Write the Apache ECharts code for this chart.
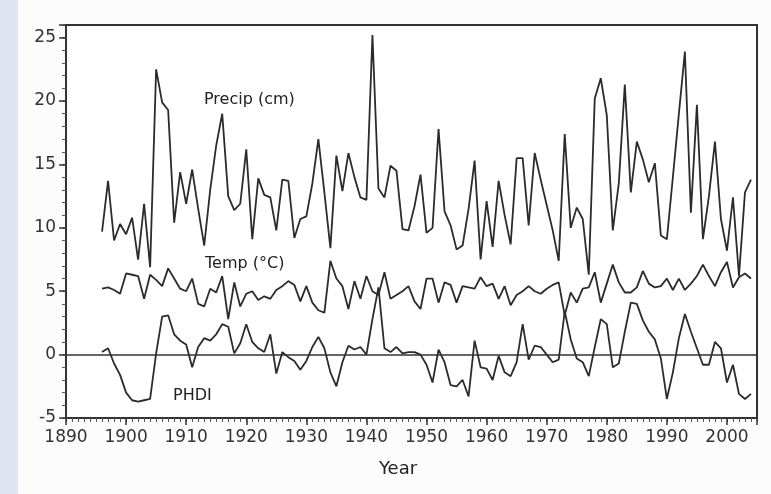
<!DOCTYPE html>
<html><head><meta charset="utf-8">
<script src="https://cdn.jsdelivr.net/npm/echarts@6/dist/echarts.min.js"></script>
<style>html,body{margin:0;padding:0;background:#fcfcfc}#c{width:771px;height:494px}</style>
</head><body><div id="c"></div>
<script>
const years = [1896,1897,1898,1899,1900,1901,1902,1903,1904,1905,1906,1907,1908,1909,1910,1911,1912,1913,1914,1915,
1916,1917,1918,1919,1920,1921,1922,1923,1924,1925,1926,1927,1928,1929,1930,1931,1932,1933,1934,1935,
1936,1937,1938,1939,1940,1941,1942,1943,1944,1945,1946,1947,1948,1949,1950,1951,1952,1953,1954,1955,
1956,1957,1958,1959,1960,1961,1962,1963,1964,1965,1966,1967,1968,1969,1970,1971,1972,1973,1974,1975,
1976,1977,1978,1979,1980,1981,1982,1983,1984,1985,1986,1987,1988,1989,1990,1991,1992,1993,1994,1995,
1996,1997,1998,1999,2000,2001,2002,2003,2004];

const precip = [9.7,13.7,9.0,10.3,9.5,10.8,7.5,11.9,6.9,22.5,19.9,19.3,10.4,14.4,11.9,14.6,11.5,8.6,13.0,16.5,
19.0,12.5,11.4,11.9,16.2,9.1,13.9,12.6,12.4,9.8,13.8,13.7,9.2,10.7,10.9,13.5,17.0,12.8,8.4,15.7,
12.9,15.9,14.0,12.4,12.2,25.2,13.1,12.4,14.9,14.5,9.9,9.8,11.7,14.2,9.6,10.0,17.8,11.3,10.2,8.3,
8.6,11.5,15.3,7.5,12.1,8.5,13.7,11.0,8.7,15.5,15.5,10.2,15.9,13.8,11.8,9.8,7.4,17.4,10.0,11.6,
10.7,6.3,20.2,21.8,18.9,9.8,13.5,21.3,12.8,16.8,15.4,13.6,15.1,9.4,9.1,14.0,19.0,23.9,11.2,19.7,
9.1,12.5,16.8,10.7,8.2,12.4,6.2,12.8,13.8];

const temp = [5.2,5.3,5.1,4.8,6.4,6.3,6.2,4.4,6.3,5.9,5.4,6.8,6.0,5.2,5.0,6.0,4.0,3.8,5.2,4.9,
6.2,2.8,5.7,3.8,4.8,5.0,4.3,4.6,4.4,5.1,5.4,5.8,5.5,4.2,5.4,4.1,3.5,3.3,7.4,6.0,
5.4,3.6,5.8,4.4,6.2,5.0,4.7,6.5,4.4,4.7,5.0,5.4,4.2,3.6,6.0,6.0,4.1,5.7,5.5,4.1,
5.4,5.3,5.2,6.1,5.4,5.6,4.4,5.4,3.9,4.7,5.0,5.4,5.0,4.8,5.2,5.5,5.7,3.1,4.9,4.1,
5.2,5.3,6.5,4.1,5.6,7.1,5.7,4.9,4.9,5.3,6.6,5.6,5.3,5.4,6.0,5.1,6.0,5.1,5.6,6.2,
7.1,6.2,5.4,6.5,7.3,5.3,6.1,6.4,6.0];

const phdi = [0.2,0.5,-0.7,-1.6,-3.0,-3.6,-3.7,-3.6,-3.5,0.1,3.0,3.1,1.6,1.1,0.8,-1.0,0.6,1.3,1.1,1.6,
2.4,2.2,0.1,0.9,2.4,1.0,0.5,0.2,1.6,-1.5,0.2,-0.2,-0.5,-1.2,-0.5,0.6,1.4,0.5,-1.4,-2.5,
-0.6,0.7,0.4,0.6,0.0,2.8,5.3,0.5,0.2,0.6,0.1,0.2,0.2,0.0,-0.8,-2.2,0.4,-0.6,-2.4,-2.5,
-2.0,-3.3,1.1,-1.0,-1.1,-2.0,-0.1,-1.4,-1.7,-0.6,2.4,-0.4,0.7,0.6,0.0,-0.6,-0.4,3.4,1.2,-0.3,
-0.6,-1.7,0.6,2.8,2.4,-1.0,-0.7,1.8,4.1,4.0,2.7,1.8,1.2,-0.3,-3.5,-1.4,1.3,3.2,1.8,0.5,
-0.8,-0.8,1.0,0.5,-2.2,-0.8,-3.1,-3.5,-3.1];

const xTickLabels = [1890,1900,1910,1920,1930,1940,1950,1960,1970,1980,1990,2000];
const yTickLabels = [-5,0,5,10,15,20,25];
const seriesNames = ['Precip (cm)', 'Temp (°C)', 'PHDI'];
const xTitle = 'Year';

const chart = echarts.init(document.getElementById('c'), null, {renderer: 'canvas'});
const pairs = arr => years.map((y, i) => [y, arr[i]]);
const font = 'DejaVu Sans';
const lineStyle = {color: '#2b2b2b', width: 1.8};
const mkSeries = (name, arr) => ({
  name, type: 'line', data: pairs(arr), xAxisIndex: 0, yAxisIndex: 0,
  symbol: 'none', lineStyle, itemStyle: {color: '#2b2b2b'}, silent: true
});

const s3 = mkSeries(seriesNames[2], phdi);
s3.markLine = {silent: true, symbol: 'none', label: {show: false},
  lineStyle: {color: '#333', width: 1.6, type: 'solid'}, data: [{yAxis: 0}]};

const option = {
  backgroundColor: '#fcfcfc',
  animation: false,
  grid: {left: 66, right: 14, top: 25, bottom: 76, show: true,
         borderColor: '#333', borderWidth: 2, backgroundColor: '#ffffff'},
  xAxis: [
    {type: 'value', min: 1890, max: 2005, interval: 1, position: 'bottom',
     axisLine: {show: true, onZero: false, lineStyle: {color: '#333', width: 2}},
     axisTick: {show: true, length: 4, lineStyle: {color: '#555', width: 1}},
     axisLabel: {show: false}, splitLine: {show: false}},
    {type: 'value', min: 1890, max: 2005, interval: 10, position: 'bottom',
     axisLine: {show: false, onZero: false},
     axisTick: {show: true, length: 7, lineStyle: {color: '#333', width: 1.5}},
     axisLabel: {margin: 11, color: '#333', fontSize: 17, fontFamily: font,
       formatter: v => xTickLabels.includes(v) ? String(v) : ''},
     splitLine: {show: false}}
  ],
  yAxis: [
    {type: 'value', min: -5, max: 26, interval: 1, position: 'left',
     axisLine: {show: true, onZero: false, lineStyle: {color: '#333', width: 2}},
     axisTick: {show: true, length: 4, lineStyle: {color: '#555', width: 1}},
     axisLabel: {show: false}, splitLine: {show: false}},
    {type: 'value', min: -5, max: 26, interval: 5, position: 'left',
     axisLine: {show: false, onZero: false},
     axisTick: {show: true, length: 7, lineStyle: {color: '#333', width: 1.5}},
     axisLabel: {margin: 10, color: '#333', fontSize: 17, fontFamily: font,
       formatter: v => yTickLabels.includes(v) ? String(v) : ''},
     splitLine: {show: false}}
  ],
  series: [mkSeries(seriesNames[0], precip), mkSeries(seriesNames[1], temp), s3],
  graphic: [
    {type: 'rect', z: -10, shape: {x: 0, y: 0, width: 18, height: 494}, style: {fill: '#e0e3f0'}},
    {type: 'text', left: 204, top: 92, style: {text: seriesNames[0], font: '16px "DejaVu Sans"', fill: '#222'}},
    {type: 'text', left: 205, top: 256, style: {text: seriesNames[1], font: '16px "DejaVu Sans"', fill: '#222'}},
    {type: 'text', left: 173, top: 388, style: {text: seriesNames[2], font: '16px "DejaVu Sans"', fill: '#222'}},
    {type: 'text', left: 379, top: 460, style: {text: xTitle, font: '18px "DejaVu Sans"', fill: '#222'}}
  ]
};
chart.setOption(option);
</script>
</body></html>
